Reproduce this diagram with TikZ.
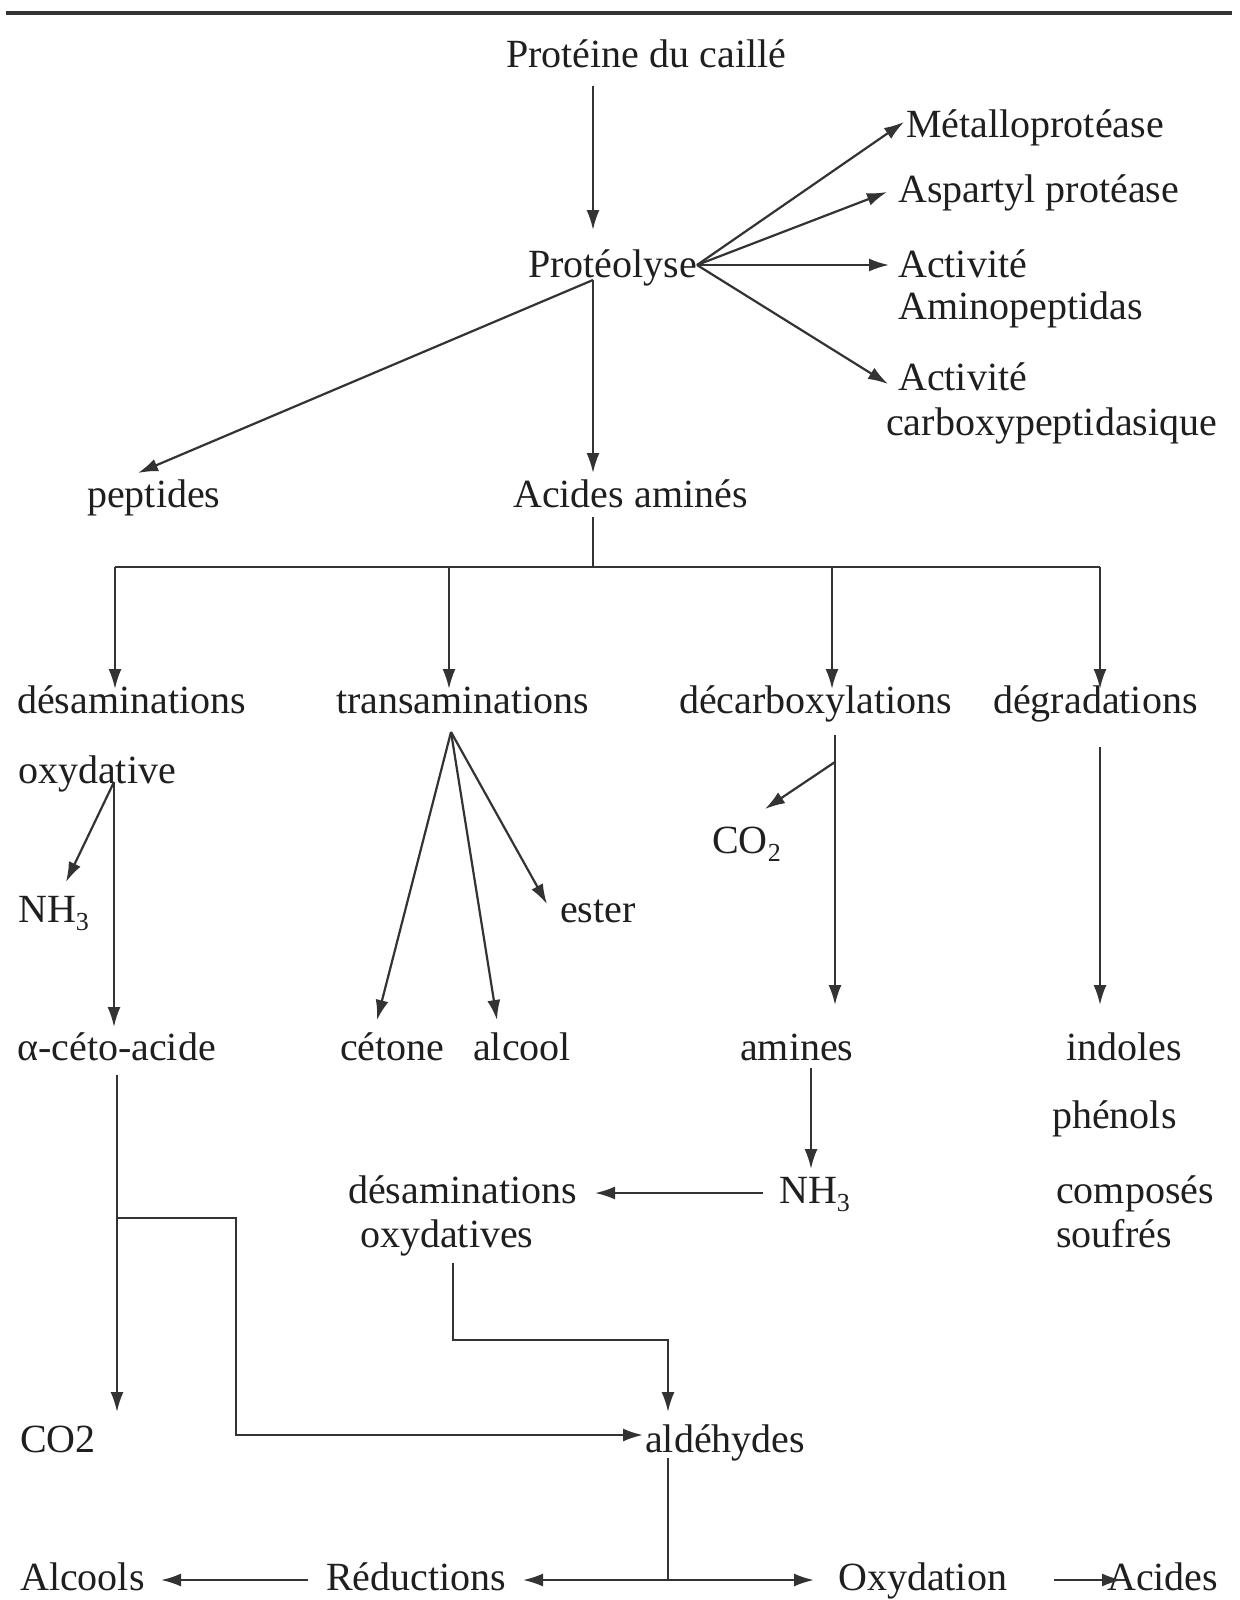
\documentclass[tikz,border=0pt]{standalone}
\usepackage{fontspec}
\setmainfont{Liberation Serif}
\usetikzlibrary{arrows.meta}
\newcommand{\idx}[1]{\raisebox{-0.2em}{\fontsize{26}{26}\selectfont #1}}
\begin{document}
\begin{tikzpicture}[x=1pt,y=-1pt,
  lbl/.style={anchor=base west,inner sep=0pt,font=\fontsize{40}{44}\selectfont,text=black!88},
  ln/.style={line width=2.2pt,draw=black!80},
  tip/.tip={Latex[length=20pt,width=13pt]},
  arr/.style={ln,-tip},
  darr/.style={ln,tip-tip}]
\useasboundingbox (0,0) rectangle (1239,1600);
\fill[white] (0,0) rectangle (1239,1600);
% top rule
\coordinate (ruleL) at (6,13);
\coordinate (ruleR) at (1232,13);
\draw[line width=4.5pt,black!80] (ruleL) -- (ruleR);

% labels
\node[lbl] (prot) at (506,68) {Protéine du caillé};
\node[lbl] (proteo) at (528,277) {Protéolyse};
\node[lbl] (metal) at (906,137) {Métalloprotéase};
\node[lbl] (asp) at (898,202) {Aspartyl protéase};
\node[lbl] (act1) at (898,277) {Activité};
\node[lbl] (amino) at (898,319) {Aminopeptidas};
\node[lbl] (act2) at (898,390) {Activité};
\node[lbl] (carb) at (886,435) {carboxypeptidasique};
\node[lbl] (pept) at (87,507) {peptides};
\node[lbl] (aa) at (513,507) {Acides aminés};
\node[lbl] (desam) at (17,713) {désaminations};
\node[lbl] (trans) at (336,713) {transaminations};
\node[lbl] (decarb) at (679,713) {décarboxylations};
\node[lbl] (degr) at (993,713) {dégradations};
\node[lbl] (oxyd) at (18,783) {oxydative};
\node[lbl] (nh3a) at (18,922) {NH\idx{3}};
\node[lbl] (cetoac) at (17,1060) {α-céto-acide};
\node[lbl] (cetone) at (340,1060) {cétone};
\node[lbl] (alcool) at (473,1060) {alcool};
\node[lbl] (ester) at (560,922) {ester};
\node[lbl] (co2a) at (712,853) {CO\idx{2}};
\node[lbl] (amines) at (740,1060) {amines};
\node[lbl] (indoles) at (1066,1060) {indoles};
\node[lbl] (phenols) at (1052,1128) {phénols};
\node[lbl] (compos) at (1056,1203) {composés};
\node[lbl] (soufres) at (1056,1247) {soufrés};
\node[lbl] (nh3b) at (779,1203) {NH\idx{3}};
\node[lbl] (desam2) at (348,1203) {désaminations};
\node[lbl] (oxyds) at (360,1247) {oxydatives};
\node[lbl] (co2b) at (20,1452) {CO2};
\node[lbl] (ald) at (645,1452) {aldéhydes};
\node[lbl] (alcools) at (20,1590) {Alcools};
\node[lbl] (reduc) at (326,1590) {Réductions};
\node[lbl] (oxydn) at (838,1590) {Oxydation};
\node[lbl] (acides) at (1107,1590) {Acides};

% coordinates
\coordinate (protS) at (593,86);
\coordinate (proteoN) at (593,230);
\coordinate (fan) at (697,265);
\coordinate (metalW) at (904,122);
\coordinate (aspW) at (887,192);
\coordinate (act1W) at (889,265);
\coordinate (act2W) at (888,384);
\coordinate (proteoS) at (593,280);
\coordinate (peptN) at (138,473);
\coordinate (aaN) at (593,473);
\coordinate (aaS) at (593,517);
\coordinate (bus) at (593,567);
\coordinate (busL) at (115,567);
\coordinate (busT) at (449,567);
\coordinate (busD) at (832,567);
\coordinate (busR) at (1100,567);
\coordinate (desamN) at (115,689);
\coordinate (transN) at (449,689);
\coordinate (decarbN) at (832,689);
\coordinate (degrN) at (1100,689);
\coordinate (oxJ) at (114,782);
\coordinate (nh3aN) at (66,882);
\coordinate (cetoN) at (114,1027);
\coordinate (apex) at (451,732);
\coordinate (cetoneN) at (377,1020);
\coordinate (alcoolN) at (497,1020);
\coordinate (esterW) at (547,904);
\coordinate (dcTop) at (835,735);
\coordinate (dcJ) at (835,762);
\coordinate (co2aN) at (765,809);
\coordinate (aminesN) at (835,1005);
\coordinate (dgTop) at (1100,747);
\coordinate (indN) at (1100,1005);
\coordinate (aminesS) at (811,1068);
\coordinate (nh3bN) at (811,1169);
\coordinate (nh3bW) at (763,1193);
\coordinate (desam2E) at (595,1193);
\coordinate (cetoS) at (117,1075);
\coordinate (cetoJ) at (117,1218);
\coordinate (co2bN) at (117,1412);
\coordinate (brA) at (236,1218);
\coordinate (brB) at (236,1435);
\coordinate (aldW) at (643,1435);
\coordinate (oxdS) at (453,1263);
\coordinate (oxdB) at (453,1340);
\coordinate (oxdC) at (668,1340);
\coordinate (aldN) at (668,1412);
\coordinate (aldS) at (668,1458);
\coordinate (aldJ) at (668,1580);
\coordinate (redE) at (308,1580);
\coordinate (alcE) at (161,1580);
\coordinate (redR) at (523,1580);
\coordinate (oxL) at (814,1580);
\coordinate (oxE) at (1054,1580);
\coordinate (acW) at (1122,1580);

% connectors
\draw[arr] (protS) -- (proteoN);
\draw[arr] (fan) -- (metalW);
\draw[arr] (fan) -- (aspW);
\draw[arr] (fan) -- (act1W);
\draw[arr] (fan) -- (act2W);
\draw[arr] (proteoS) -- (peptN);
\draw[arr] (proteoS) -- (aaN);
\draw[ln] (aaS) -- (bus);
\draw[ln] (busL) -- (busR);
\draw[arr] (busL) -- (desamN);
\draw[arr] (busT) -- (transN);
\draw[arr] (busD) -- (decarbN);
\draw[arr] (busR) -- (degrN);
\draw[arr] (oxJ) -- (cetoN);
\draw[arr] (oxJ) -- (nh3aN);
\draw[arr] (apex) -- (cetoneN);
\draw[arr] (apex) -- (alcoolN);
\draw[arr] (apex) -- (esterW);
\draw[arr] (dcTop) -- (aminesN);
\draw[arr] (dcJ) -- (co2aN);
\draw[arr] (dgTop) -- (indN);
\draw[arr] (aminesS) -- (nh3bN);
\draw[arr] (nh3bW) -- (desam2E);
\draw[arr] (cetoS) -- (co2bN);
\draw[arr] (cetoJ) -- (brA) -- (brB) -- (aldW);
\draw[arr] (oxdS) -- (oxdB) -- (oxdC) -- (aldN);
\draw[ln] (aldS) -- (aldJ);
\draw[arr] (redE) -- (alcE);
\draw[darr] (redR) -- (oxL);
\draw[arr] (oxE) -- (acW);
\end{tikzpicture}
\end{document}
